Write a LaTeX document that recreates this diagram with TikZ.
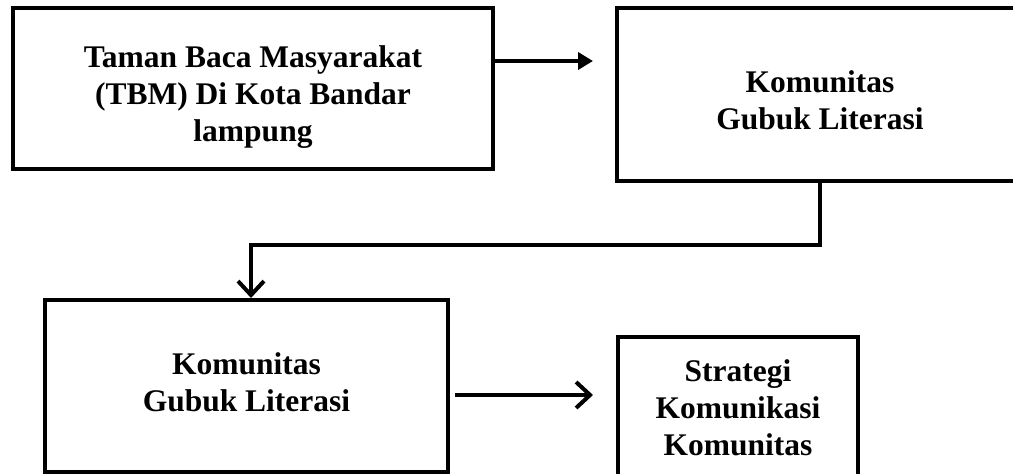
\documentclass[tikz,border=0pt]{standalone}
\usepackage{fontspec}
\setmainfont{Liberation Serif}
\usetikzlibrary{arrows.meta}
\begin{document}
\begin{tikzpicture}[x=1pt,y=-1pt,
  box/.style={draw, rectangle, line width=4pt, inner sep=0pt},
  lbl/.style={align=center, font=\bfseries\fontsize{31.5}{37}\selectfont, inner sep=0pt},
  conn/.style={line width=4pt},
  tri/.style={conn, -{Triangle[length=15pt,width=17pt]}},
  barb/.style={conn, -{Straight Barb[length=14pt,width=26pt]}}]
\useasboundingbox (0,0) rectangle (1013,474);
% boxes
\node[box, minimum width=480pt, minimum height=161pt] (b1) at (253,88.5) {};
\node[box, minimum width=406pt, minimum height=173pt] (b2) at (820,94.5) {};
\node[box, minimum width=403pt, minimum height=172pt] (b3) at (246.5,386) {};
\node[box, minimum width=240pt, minimum height=141pt] (b4) at (738,407.5) {};
% labels
\node[lbl] (t1) at (253,97) {Taman Baca Masyarakat\\(TBM) Di Kota Bandar\\lampung};
\node[lbl] (t2) at (820,100.5) {Komunitas\\Gubuk Literasi};
\node[lbl] (t3) at (246.5,382.5) {Komunitas\\Gubuk Literasi};
\node[lbl] (t4) at (738,407.5) {Strategi\\Komunikasi\\Komunitas};
% connectors
\coordinate (a1s) at ([yshift=27.5pt]b1.east);
\draw[tri, shorten >=22pt] (a1s) -- (a1s -| b2.west);
\coordinate (k) at (251,245);
\draw[barb] (b2.south) |- (k) -- (k |- b3.north);
\coordinate (a4s) at ([yshift=-9pt]b3.east);
\draw[barb, shorten <=5pt, shorten >=23pt] (a4s) -- (a4s -| b4.west);
\end{tikzpicture}
\end{document}
